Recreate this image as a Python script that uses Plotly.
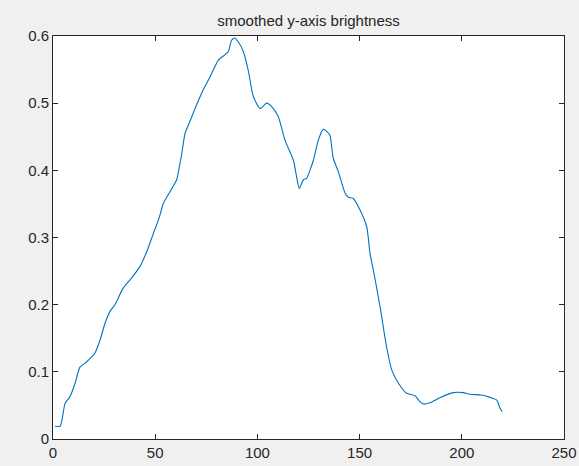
import plotly.graph_objects as go

x_vals = [1, 3.5, 5.9, 8.3, 10.8, 13.2, 16.5, 20.5, 23, 25.4, 27.9, 30.3, 34.4, 38.5, 42.6, 46,
          49.1, 52, 54, 57.2, 60.5, 61.5, 63, 64.6, 66.2, 69.5, 73.5, 76.8, 80.9, 84.1, 85.8,
          87.4, 89, 90.7, 93.1, 95.5, 98, 101.3, 104.5, 107, 110.2, 113.5, 117.6, 119.2,
          120.5, 122.5, 124.1, 125.7, 127.4, 129.8, 132.2, 133.9, 135.5, 137.1, 139.6,
          142.9, 144.5, 146.9, 150.2, 153.5, 155.1, 156.7, 160, 163.2, 165.7, 169, 173,
          177.1, 179.5, 181.2, 184.4, 189.3, 195.8, 200.7, 204, 209.7, 213.8, 217.1,
          218.7, 219.8]
y_vals = [0.019, 0.019, 0.053, 0.063, 0.083, 0.107, 0.115, 0.128, 0.147, 0.172, 0.19, 0.200,
          0.225, 0.240, 0.257, 0.280,
          0.306, 0.330, 0.351, 0.368, 0.386, 0.40, 0.425, 0.455, 0.467, 0.492, 0.520, 0.539, 0.564,
          0.572, 0.577, 0.594, 0.597, 0.591, 0.577, 0.549, 0.510, 0.492, 0.500, 0.495, 0.480,
          0.445, 0.415, 0.39, 0.373, 0.386, 0.388, 0.40, 0.415, 0.445, 0.461, 0.458, 0.452,
          0.418, 0.398, 0.366, 0.360, 0.358, 0.341, 0.316, 0.276, 0.252, 0.197, 0.137, 0.103,
          0.083, 0.068, 0.0645, 0.0556, 0.052, 0.054, 0.0615, 0.069, 0.069, 0.0665, 0.0655,
          0.062, 0.058, 0.0457, 0.0407]

x_ticks = [0, 50, 100, 150, 200, 250]
y_ticks = [0, 0.1, 0.2, 0.3, 0.4, 0.5, 0.6]
y_tick_labels = ["0", "0.1", "0.2", "0.3", "0.4", "0.5", "0.6"]

fig = go.Figure()
fig.add_trace(go.Scatter(x=x_vals, y=y_vals, mode="lines",
                         line=dict(color="#0072BD", width=1.1, shape="spline", smoothing=0.6),
                         showlegend=False, hoverinfo="skip"))

axis_common = dict(showgrid=False, zeroline=False, showline=True, linecolor="#262626",
                   linewidth=1, mirror="ticks", ticks="inside", ticklen=5, tickwidth=1,
                   tickcolor="#262626", automargin=False,
                   tickfont=dict(family="Liberation Sans, Arial", size=15, color="#262626"))
fig.update_xaxes(range=[0, 250], tickvals=x_ticks, **axis_common)
fig.update_yaxes(range=[0, 0.6], tickvals=y_ticks, ticktext=y_tick_labels, **axis_common)

fig.update_layout(
    width=579, height=466,
    margin=dict(l=53, r=15, t=36, b=27),
    paper_bgcolor="#F0F0F0", plot_bgcolor="white",
    title=dict(text="smoothed y-axis brightness", x=(53 + 564) / 2 / 579, xanchor="center",
               y=1 - 21 / 466, yanchor="middle",
               font=dict(family="Liberation Sans, Arial", size=15, color="#262626")),
)
fig.write_html("out.html", config={"displayModeBar": False},
               post_script="document.body.style.margin='0';")
